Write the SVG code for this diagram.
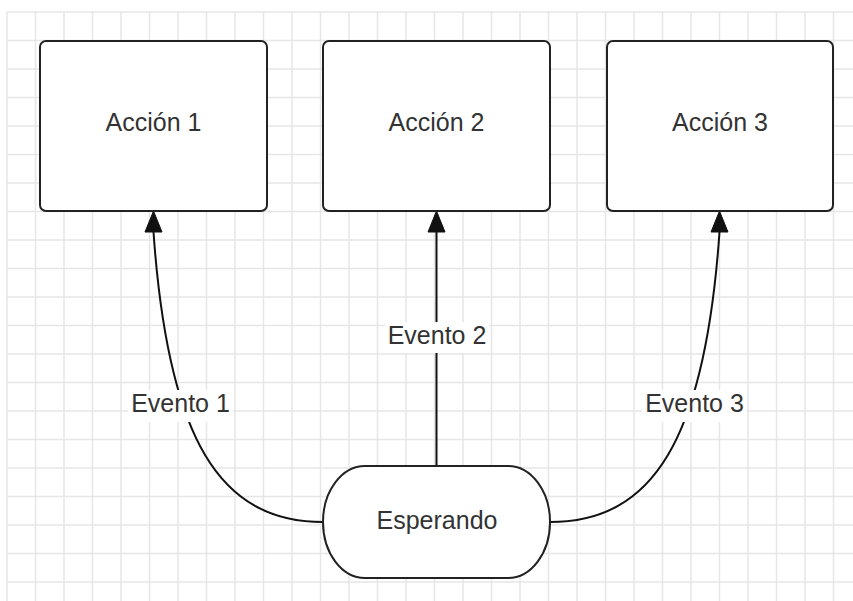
<svg xmlns="http://www.w3.org/2000/svg" width="853" height="601" viewBox="0 0 853 601">
<style>
.grid line{stroke:#e6e6e6;stroke-width:1.5}
.box{fill:#fff;stroke:#222;stroke-width:2}
.lbl{font-family:"Liberation Sans",Arial,sans-serif;font-size:25px;fill:#333;text-anchor:middle}
.edge{fill:none;stroke:#111;stroke-width:2}
.head{fill:#111;stroke:#111;stroke-width:1;stroke-linejoin:round}
.bg{fill:#fff}
</style>
<defs>
<path id="arrow" d="M0,0 L8.5,21 L-8.5,21 Z"/>
</defs>
<rect width="853" height="601" fill="#fff"/>
<g class="grid">
<line x1="7" y1="12" x2="7" y2="601"/><line x1="35.5" y1="12" x2="35.5" y2="601"/><line x1="64" y1="12" x2="64" y2="601"/><line x1="92.5" y1="12" x2="92.5" y2="601"/><line x1="121" y1="12" x2="121" y2="601"/><line x1="149.5" y1="12" x2="149.5" y2="601"/><line x1="178" y1="12" x2="178" y2="601"/><line x1="206.5" y1="12" x2="206.5" y2="601"/><line x1="235" y1="12" x2="235" y2="601"/><line x1="263.5" y1="12" x2="263.5" y2="601"/><line x1="292" y1="12" x2="292" y2="601"/><line x1="320.5" y1="12" x2="320.5" y2="601"/><line x1="349" y1="12" x2="349" y2="601"/><line x1="377.5" y1="12" x2="377.5" y2="601"/><line x1="406" y1="12" x2="406" y2="601"/><line x1="434.5" y1="12" x2="434.5" y2="601"/><line x1="463" y1="12" x2="463" y2="601"/><line x1="491.5" y1="12" x2="491.5" y2="601"/><line x1="520" y1="12" x2="520" y2="601"/><line x1="548.5" y1="12" x2="548.5" y2="601"/><line x1="577" y1="12" x2="577" y2="601"/><line x1="605.5" y1="12" x2="605.5" y2="601"/><line x1="634" y1="12" x2="634" y2="601"/><line x1="662.5" y1="12" x2="662.5" y2="601"/><line x1="691" y1="12" x2="691" y2="601"/><line x1="719.5" y1="12" x2="719.5" y2="601"/><line x1="748" y1="12" x2="748" y2="601"/><line x1="776.5" y1="12" x2="776.5" y2="601"/><line x1="805" y1="12" x2="805" y2="601"/><line x1="833.5" y1="12" x2="833.5" y2="601"/>
<line x1="7" y1="12" x2="853" y2="12"/><line x1="7" y1="40.5" x2="853" y2="40.5"/><line x1="7" y1="69" x2="853" y2="69"/><line x1="7" y1="97.5" x2="853" y2="97.5"/><line x1="7" y1="126" x2="853" y2="126"/><line x1="7" y1="154.5" x2="853" y2="154.5"/><line x1="7" y1="183" x2="853" y2="183"/><line x1="7" y1="211.5" x2="853" y2="211.5"/><line x1="7" y1="240" x2="853" y2="240"/><line x1="7" y1="268.5" x2="853" y2="268.5"/><line x1="7" y1="297" x2="853" y2="297"/><line x1="7" y1="325.5" x2="853" y2="325.5"/><line x1="7" y1="354" x2="853" y2="354"/><line x1="7" y1="382.5" x2="853" y2="382.5"/><line x1="7" y1="411" x2="853" y2="411"/><line x1="7" y1="439.5" x2="853" y2="439.5"/><line x1="7" y1="468" x2="853" y2="468"/><line x1="7" y1="496.5" x2="853" y2="496.5"/><line x1="7" y1="525" x2="853" y2="525"/><line x1="7" y1="553.5" x2="853" y2="553.5"/><line x1="7" y1="582" x2="853" y2="582"/>
</g>
<g id="connectors">
<path class="edge" d="M323,522 C220,522 168,440 153.5,232"/>
<use href="#arrow" class="head" x="153.5" y="211"/>
<path class="edge" d="M436.5,466 L436.5,232"/>
<use href="#arrow" class="head" x="436.5" y="211"/>
<path class="edge" d="M550,522 C653,522 705,440 719.5,232"/>
<use href="#arrow" class="head" x="719.5" y="211"/>
<rect class="bg" x="128" y="390" width="105" height="32"/>
<text class="lbl" x="180.5" y="412">Evento 1</text>
<rect class="bg" x="385" y="322" width="104" height="31"/>
<text class="lbl" x="437" y="344">Evento 2</text>
<rect class="bg" x="642" y="390" width="105" height="32"/>
<text class="lbl" x="694.5" y="412">Evento 3</text>
</g>
<g id="accion1">
<rect class="box" x="40" y="41" width="227" height="170" rx="6"/>
<text class="lbl" x="153.5" y="131">Acción 1</text>
</g>
<g id="accion2">
<rect class="box" x="323" y="41" width="227" height="170" rx="6"/>
<text class="lbl" x="436.5" y="131">Acción 2</text>
</g>
<g id="accion3">
<rect class="box" x="607" y="41" width="226" height="170" rx="6"/>
<text class="lbl" x="720" y="131">Acción 3</text>
</g>
<g id="esperando">
<rect class="box" x="323" y="466" width="227" height="112" rx="42" ry="56"/>
<text class="lbl" x="437" y="529">Esperando</text>
</g>
</svg>
